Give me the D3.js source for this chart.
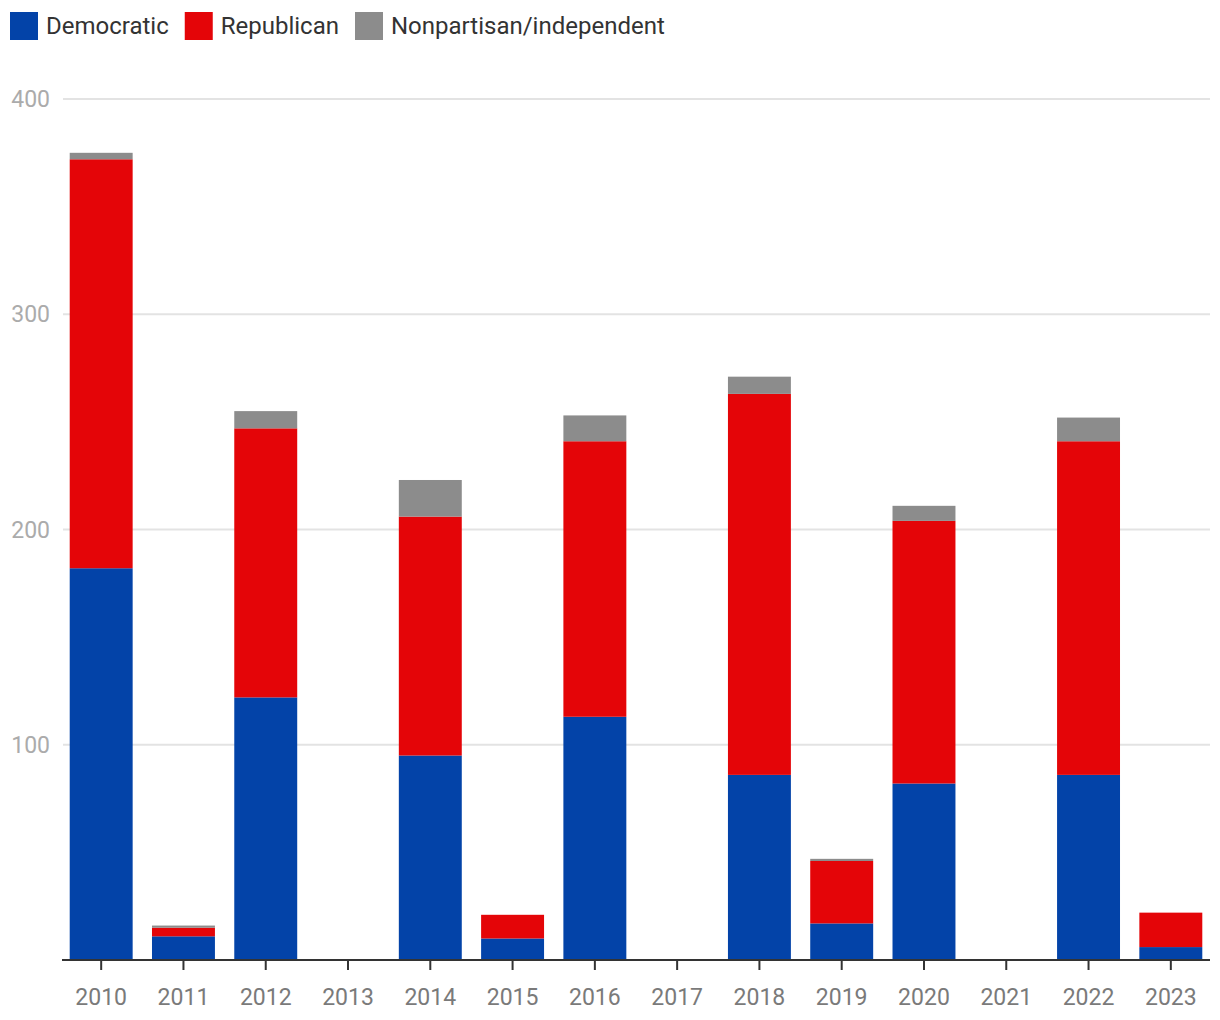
<!DOCTYPE html>
<html>
<head>
<meta charset="utf-8">
<script src="https://cdn.jsdelivr.net/npm/d3@7"></script>
<style>
  body { margin: 0; background: #fff; }
  text { font-family: Roboto, "Noto Sans", sans-serif; }
</style>
</head>
<body>
<svg id="chart" width="1220" height="1020"></svg>
<script>
const years = ['2010', '2011', '2012', '2013', '2014', '2015', '2016', '2017', '2018', '2019', '2020', '2021', '2022', '2023'];
const democratic = [182, 11, 122, 0, 95, 10, 113, 0, 86, 17, 82, 0, 86, 6];
const republican = [190, 4, 125, 0, 111, 11, 128, 0, 177, 29, 122, 0, 155, 16];
const nonpartisan = [3, 1, 8, 0, 17, 0, 12, 0, 8, 1, 7, 0, 11, 0];
const seriesNames = ['Democratic', 'Republican', 'Nonpartisan/independent'];
const yTicks = [100, 200, 300, 400];

const colors = ['#0343a8', '#e40508', '#8c8c8c'];

const svg = d3.select('#chart');
const plotLeft = 60, plotRight = 1212, plotTop = 99, plotBottom = 960;

const rows = years.map((y, i) => ({
  year: y,
  Democratic: democratic[i],
  Republican: republican[i],
  'Nonpartisan/independent': nonpartisan[i]
}));

const x = d3.scaleBand().domain(years).range([plotLeft, plotRight]).paddingInner(0.235).paddingOuter(0.118);
const yScale = d3.scaleLinear().domain([0, 400]).range([plotBottom, plotTop]);

// grid
svg.append('g')
  .selectAll('line')
  .data(yTicks)
  .enter().append('line')
  .attr('x1', 63).attr('x2', 1210)
  .attr('y1', (d) => yScale(d)).attr('y2', (d) => yScale(d))
  .attr('stroke', '#e3e3e3')
  .attr('stroke-width', 2);

svg.append('g')
  .selectAll('text')
  .data(yTicks)
  .enter().append('text')
  .attr('x', 50)
  .attr('y', (d) => yScale(d))
  .attr('dy', '0.35em')
  .attr('text-anchor', 'end')
  .attr('fill', '#ababab')
  .style('font-size', '23px')
  .text((d) => d);

const stack = d3.stack().keys(seriesNames);

svg.append('g')
  .selectAll('g')
  .data(stack(rows))
  .enter().append('g')
  .attr('fill', (d, i) => colors[i])
  .selectAll('rect')
  .data((d) => d)
  .enter().append('rect')
  .attr('x', (d) => x(d.data.year))
  .attr('width', x.bandwidth())
  .attr('y', (d) => yScale(d[1]))
  .attr('height', (d) => yScale(d[0]) - yScale(d[1]));

// x axis
const xAxis = svg.append('g')
  .attr('transform', `translate(0,${plotBottom})`)
  .call(d3.axisBottom(x).tickSize(10).tickSizeOuter(0).tickPadding(19));
xAxis.select('.domain').attr('stroke', '#333').attr('stroke-width', 2)
  .attr('d', 'M62,0H1210');
xAxis.selectAll('.tick line').attr('stroke', '#333').attr('stroke-width', 2);
xAxis.selectAll('.tick text')
  .attr('fill', '#7a7a7a')
  .style('font-size', '23px')
  .style('font-family', 'Roboto, "Noto Sans", sans-serif');

// legend
const legend = svg.append('g');
let lx = 10;
seriesNames.forEach((name, i) => {
  legend.append('rect')
    .attr('x', lx).attr('y', 12)
    .attr('width', 28).attr('height', 28)
    .attr('fill', colors[i]);
  const t = legend.append('text')
    .attr('x', lx + 36).attr('y', 26)
    .attr('dy', '0.35em')
    .attr('fill', '#333')
    .style('font-size', '24px')
    .text(name);
  lx += 36 + t.node().getComputedTextLength() + 16;
});
</script>
</body>
</html>
